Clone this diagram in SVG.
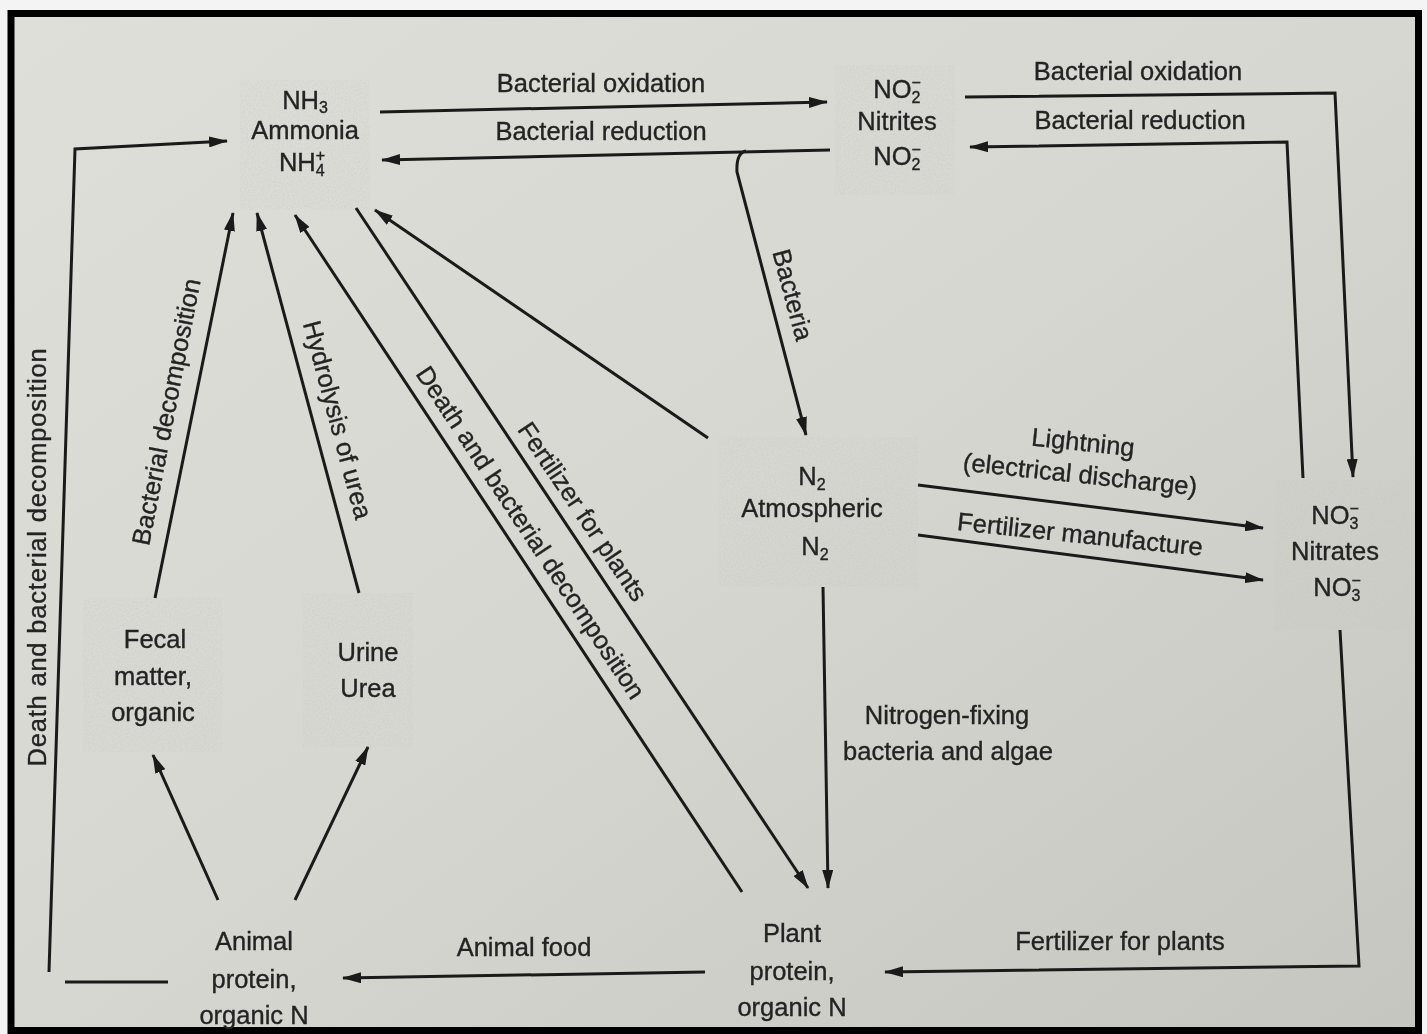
<svg xmlns="http://www.w3.org/2000/svg" width="1427" height="1034" viewBox="0 0 1427 1034">
<defs>
<linearGradient id="bg" x1="0" y1="0" x2="1" y2="1">
<stop offset="0" stop-color="#dedfd9"/>
<stop offset="0.5" stop-color="#d6d7d1"/>
<stop offset="1" stop-color="#c6c6c0"/>
</linearGradient>
<filter id="speck" x="0" y="0" width="1" height="1">
<feTurbulence type="fractalNoise" baseFrequency="0.6" numOctaves="2" seed="3" result="n"/>
<feColorMatrix in="n" type="matrix" values="0 0 0 0 0.55  0 0 0 0 0.55  0 0 0 0 0.52  0 0 0 -2.2 1.3" result="m"/>
<feComposite in="m" in2="SourceGraphic" operator="in"/>
</filter>
<marker id="ah" viewBox="0 0 19 11" refX="18" refY="5.5" markerWidth="19" markerHeight="11" orient="auto" markerUnits="userSpaceOnUse">
<path d="M0,0 L19,5.5 L0,11 z" fill="#1a1a1a"/>
</marker>
<style>
text{font-family:"Liberation Sans",Arial,sans-serif;font-size:25.5px;fill:#232323;stroke:#232323;stroke-width:0.35;text-anchor:middle}
.sm{font-size:16px}
.cn path{fill:none;stroke:#1a1a1a;stroke-width:3;stroke-linejoin:miter}
.ar{marker-end:url(#ah)}
.box{fill:#b8b8b0;opacity:0.35}
</style>
</defs>
<rect x="0" y="0" width="1427" height="1034" fill="#f4f4f4"/>
<rect x="11" y="13.5" width="1407.5" height="1017" fill="url(#bg)" stroke="#000" stroke-width="7"/>

<g id="speckles" filter="url(#speck)">
<rect class="box" x="719" y="437" width="199" height="150"/>
<rect class="box" x="1275" y="480" width="135" height="150"/>
<rect class="box" x="83" y="598" width="140" height="154"/>
<rect class="box" x="303" y="593" width="110" height="154"/>
<rect class="box" x="835" y="65" width="120" height="130"/>
<rect class="box" x="240" y="80" width="130" height="130"/>
</g>

<g id="connectors" class="cn">
<path class="ar" d="M380,112 L827,102"/>
<path class="ar" d="M830,150 L382,160"/>
<path class="ar" d="M746,151 Q736,153 737,172 L806,435"/>
<path class="ar" d="M965,97 L1335,93 L1353,477"/>
<path class="ar" d="M1303,478 L1287,142 L970,147"/>
<path class="ar" d="M918,485 L1263,528"/>
<path class="ar" d="M918,535 L1263,580"/>
<path class="ar" d="M708,438 L375,210"/>
<path class="ar" d="M823,587 L828,888"/>
<path class="ar" d="M1340,630 L1359,966 L885,972"/>
<path class="ar" d="M705,972 L343,978"/>
<path d="M168,982 L65,982"/>
<path class="ar" d="M49,972 L75,149 L227,141"/>
<path class="ar" d="M155,598 L233,213"/>
<path class="ar" d="M359,593 L257,213"/>
<path class="ar" d="M742,892 L295,215"/>
<path class="ar" d="M356,208 L808,888"/>
<path class="ar" d="M218,900 L153,755"/>
<path class="ar" d="M295,900 L368,747"/>
</g>

<g id="labels">
<text x="601" y="92">Bacterial oxidation</text>
<text x="601" y="140">Bacterial reduction</text>
<text x="1138" y="80">Bacterial oxidation</text>
<text x="1140" y="129">Bacterial reduction</text>
<text transform="translate(792,295) rotate(75)" y="8">Bacteria</text>
<text transform="translate(1083,443) rotate(6)" y="8">Lightning</text>
<text transform="translate(1080,475) rotate(6)" y="8">(electrical discharge)</text>
<text transform="translate(1080,535) rotate(6)" y="8">Fertilizer manufacture</text>
<text x="947" y="724">Nitrogen-fixing</text>
<text x="948" y="760">bacteria and algae</text>
<text x="1120" y="950">Fertilizer for plants</text>
<text x="524" y="956">Animal food</text>
<text transform="translate(38,557) rotate(-90)" y="8" letter-spacing="0.8">Death and bacterial decomposition</text>
<text transform="translate(167,412) rotate(-79)" y="8">Bacterial decomposition</text>
<text transform="translate(337,420) rotate(75)" y="8">Hydrolysis of urea</text>
<text transform="translate(530,533) rotate(56.5)" y="8">Death and bacterial decomposition</text>
<text transform="translate(582,512) rotate(56)" y="8">Fertilizer for plants</text>
</g>

<g id="ammonia">
<text x="305" y="109">NH<tspan class="sm" dy="4">3</tspan></text>
<text x="305" y="139">Ammonia</text>
<text x="302" y="171">NH<tspan class="sm" dy="5">4</tspan><tspan class="sm" dx="-9" dy="-15">+</tspan></text>
</g>

<g id="nitrites">
<text x="897" y="98">NO<tspan class="sm" dy="5">2</tspan><tspan class="sm" dx="-9" dy="-15">−</tspan></text>
<text x="897" y="130">Nitrites</text>
<text x="897" y="165">NO<tspan class="sm" dy="5">2</tspan><tspan class="sm" dx="-9" dy="-15">−</tspan></text>
</g>

<g id="atmospheric">
<text x="812" y="485">N<tspan class="sm" dy="5">2</tspan></text>
<text x="812" y="517">Atmospheric</text>
<text x="815" y="555">N<tspan class="sm" dy="5">2</tspan></text>
</g>

<g id="nitrates">
<text x="1335" y="524">NO<tspan class="sm" dy="5">3</tspan><tspan class="sm" dx="-9" dy="-15">−</tspan></text>
<text x="1335" y="560">Nitrates</text>
<text x="1337" y="596">NO<tspan class="sm" dy="5">3</tspan><tspan class="sm" dx="-9" dy="-15">−</tspan></text>
</g>

<g id="plant">
<text x="792" y="942">Plant</text>
<text x="792" y="980">protein,</text>
<text x="792" y="1016">organic N</text>
</g>

<g id="animal">
<text x="254" y="950">Animal</text>
<text x="254" y="988">protein,</text>
<text x="254" y="1024">organic N</text>
</g>

<g id="fecal">
<text x="155" y="648">Fecal</text>
<text x="153" y="685">matter,</text>
<text x="153" y="721">organic</text>
</g>

<g id="urine">
<text x="368" y="661">Urine</text>
<text x="368" y="697">Urea</text>
</g>
</svg>
